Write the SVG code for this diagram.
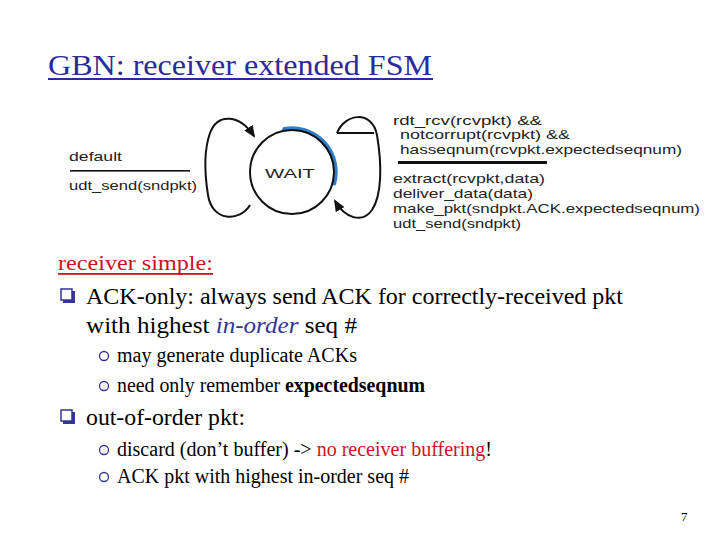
<svg xmlns="http://www.w3.org/2000/svg" width="720" height="540" viewBox="0 0 720 540">
<style>
.fsm{font-family:"Liberation Sans",Arial,sans-serif;font-size:13px;fill:#222}
.tm{font-family:"Liberation Serif","Times New Roman",serif;fill:#000}
.conn{fill:none;stroke:#111;stroke-width:2}
.sq{fill:#fff;stroke:#333399;stroke-width:1.5}
.sqs{fill:#333399}
.ci{fill:none;stroke:#333399;stroke-width:1.3}
</style>
<defs>
<marker id="ah" viewBox="0 0 12 10" refX="10" refY="5" markerWidth="12" markerHeight="10" markerUnits="userSpaceOnUse" orient="auto">
<path d="M0,0 L12,5 L0,10 Z" fill="#111"/>
</marker>
</defs>
<rect width="720" height="540" fill="#fff"/>
<g id="title">
<text class="tm" x="48" y="75" font-size="30" style="fill:#2b2b9a" textLength="384" lengthAdjust="spacingAndGlyphs">GBN: receiver extended FSM</text>
<rect x="48" y="78" width="385" height="2" fill="#2b2b9a"/>
</g>
<g id="wait">
<path d="M284.4,129.2 A43.5,43.5 0 0 1 334,183.3" fill="none" stroke="#2f80c8" stroke-width="4.5" stroke-linecap="round"/>
<circle cx="292" cy="172" r="42" fill="none" stroke="#111" stroke-width="2"/>
<text class="fsm" x="290" y="178" font-size="20" text-anchor="middle" textLength="50" lengthAdjust="spacingAndGlyphs">WAIT</text>
</g>
<g id="connectors">
<path class="conn" d="M250,205 C240,222 212,222 208,195 C204,170 204,150 210,133 C218,112 240,115 254,136" marker-end="url(#ah)"/>
<path class="conn" d="M337,133 C345,113 372,110 377,135 C382,165 382,195 372,210 C362,224 345,218 335,201" marker-end="url(#ah)"/>
<path class="conn" d="M337,133 H374"/>
</g>
<g id="label-default">
<text class="fsm" x="69" y="161" textLength="53" lengthAdjust="spacingAndGlyphs">default</text>
<rect x="70" y="170" width="120" height="1.6" fill="#111"/>
<text class="fsm" x="69" y="190" textLength="128" lengthAdjust="spacingAndGlyphs">udt_send(sndpkt)</text>
</g>
<g id="label-recv">
<text class="fsm" x="393" y="125" textLength="149" lengthAdjust="spacingAndGlyphs">rdt_rcv(rcvpkt) &amp;&amp;</text>
<text class="fsm" x="400" y="139" textLength="170" lengthAdjust="spacingAndGlyphs">notcorrupt(rcvpkt)  &amp;&amp;</text>
<text class="fsm" x="400" y="154" textLength="282" lengthAdjust="spacingAndGlyphs">hasseqnum(rcvpkt.expectedseqnum)</text>
<rect x="398" y="161" width="149" height="3" fill="#111"/>
<text class="fsm" x="393" y="183" textLength="152" lengthAdjust="spacingAndGlyphs">extract(rcvpkt,data)</text>
<text class="fsm" x="393" y="198" textLength="140" lengthAdjust="spacingAndGlyphs">deliver_data(data)</text>
<text class="fsm" x="393" y="213" textLength="307" lengthAdjust="spacingAndGlyphs">make_pkt(sndpkt.ACK.expectedseqnum)</text>
<text class="fsm" x="393" y="228" textLength="128" lengthAdjust="spacingAndGlyphs">udt_send(sndpkt)</text>
</g>
<g id="body">
<text class="tm" x="58" y="270" font-size="22" style="fill:#c8141e" textLength="155" lengthAdjust="spacingAndGlyphs">receiver simple:</text>
<rect x="58" y="273" width="155" height="1.8" fill="#c8141e"/>
<rect class="sqs" x="63" y="291" width="12" height="12"/>
<rect class="sq" x="61" y="289" width="11" height="11"/>
<text class="tm" x="86" y="304" font-size="24" textLength="537" lengthAdjust="spacingAndGlyphs">ACK-only: always send ACK for correctly-received pkt</text>
<text class="tm" x="86" y="333" font-size="24" textLength="271" lengthAdjust="spacingAndGlyphs">with highest <tspan font-style="italic" style="fill:#333399">in-order</tspan> seq #</text>
<circle class="ci" cx="104" cy="356" r="4.5"/>
<text class="tm" x="117" y="362" font-size="20" textLength="240" lengthAdjust="spacingAndGlyphs">may generate duplicate ACKs</text>
<circle class="ci" cx="104" cy="386" r="4.5"/>
<text class="tm" x="117" y="392" font-size="20" textLength="308" lengthAdjust="spacingAndGlyphs">need only remember <tspan font-weight="bold">expectedseqnum</tspan></text>
<rect class="sqs" x="63" y="412" width="12" height="12"/>
<rect class="sq" x="61" y="410" width="11" height="11"/>
<text class="tm" x="86" y="425" font-size="24" textLength="159" lengthAdjust="spacingAndGlyphs">out-of-order pkt:</text>
<circle class="ci" cx="104" cy="450" r="4.5"/>
<text class="tm" x="117" y="456" font-size="20" textLength="375" lengthAdjust="spacingAndGlyphs">discard (don’t buffer) -&gt; <tspan style="fill:#c8141e">no receiver buffering</tspan>!</text>
<circle class="ci" cx="104" cy="477" r="4.5"/>
<text class="tm" x="117" y="483" font-size="20" textLength="292" lengthAdjust="spacingAndGlyphs">ACK pkt with highest in-order seq #</text>
<text class="tm" x="681" y="521" font-size="13">7</text>
</g>
</svg>
